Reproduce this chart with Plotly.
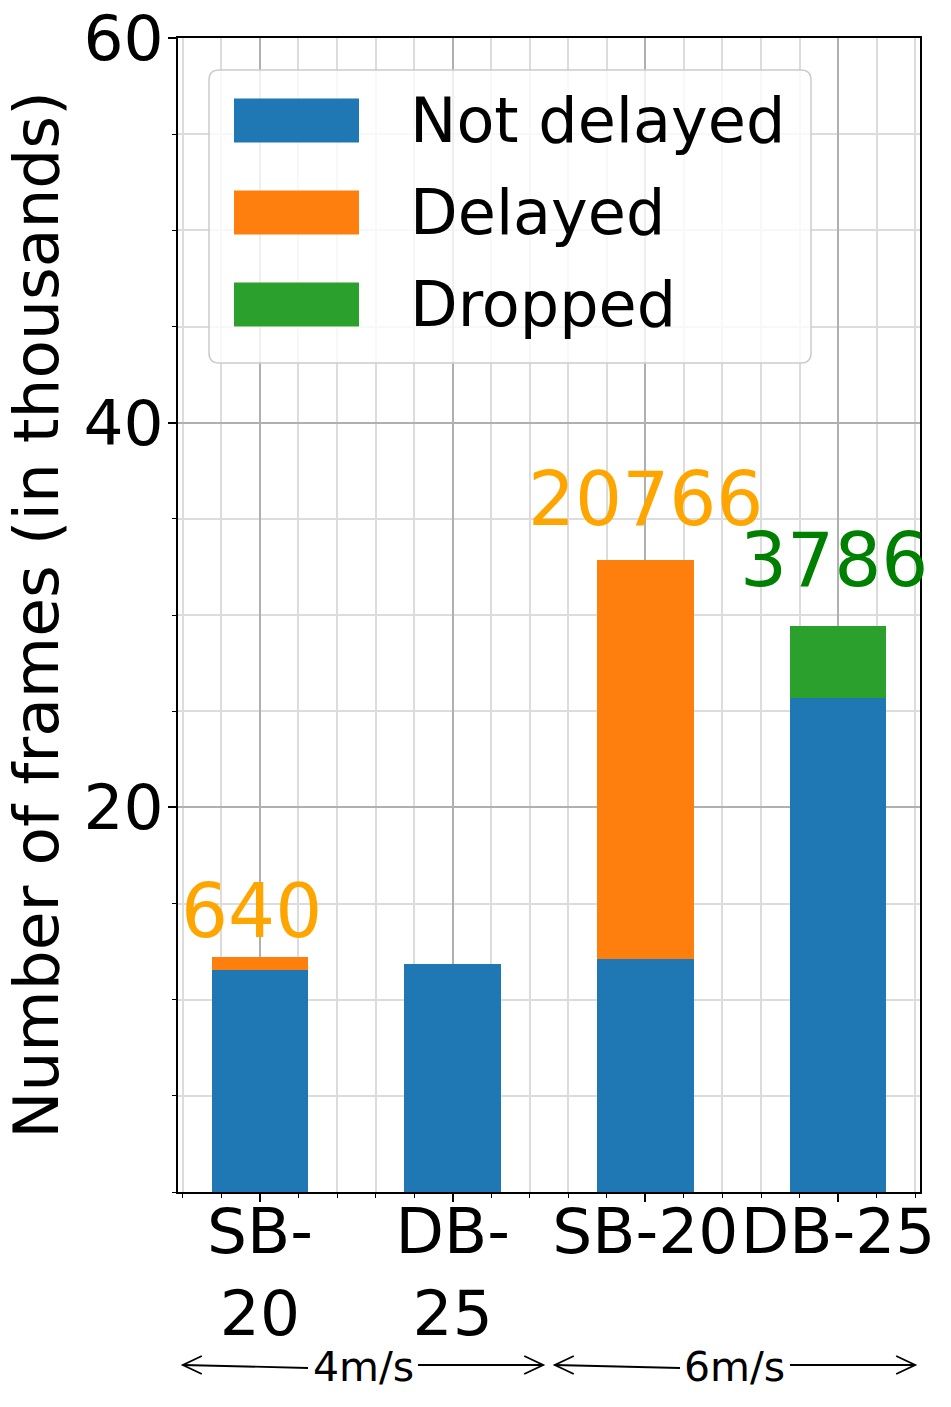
import plotly.graph_objects as go

# ---------------- data ----------------
categories = ["SB-<br>20", "DB-<br>25", "SB-20", "DB-25"]
x_pos = [0, 1, 2, 3]
not_delayed = [11.56, 11.84, 12.10, 25.66]   # thousands of frames
delayed = [0.640, 0.0, 20.766, 0.0]
dropped = [0.0, 0.0, 0.0, 3.786]
series_names = ["Not delayed", "Delayed", "Dropped"]
series_colors = ["#1f77b4", "#ff7f0e", "#2ca02c"]
label_text = ["640", "", "20766", "3786"]
label_colors = ["#FFA500", "#FFA500", "#FFA500", "#008000"]
speed_labels = ["4m/s", "6m/s"]
speed_spans = [(-0.40, 1.47), (1.53, 3.40)]
y_tickvals = [20, 40, 60]

# ---------------- style ----------------
FONT = "DejaVu Sans"
W, H = 951, 1407
ML, MR, MT, MB = 178, 31, 38, 215
PW, PH = W - ML - MR, H - MT - MB
XR = [-0.425, 3.425]
label_yshift = [46, 0, 61, 66]
label_xshift = [-8, 0, 0, -4]

fig = go.Figure()
for name, vals, col in zip(series_names, [not_delayed, delayed, dropped], series_colors):
    fig.add_trace(go.Bar(x=x_pos, y=vals, name=name, width=0.5,
                         marker=dict(color=col, line=dict(width=0)),
                         showlegend=False))

# value labels above bars
totals = [a + b + c for a, b, c in zip(not_delayed, delayed, dropped)]
for i, t in enumerate(label_text):
    if not t:
        continue
    fig.add_annotation(x=x_pos[i], y=totals[i], text=t, showarrow=False,
                       xref="x", yref="y", yanchor="middle", xanchor="center",
                       yshift=label_yshift[i], xshift=label_xshift[i],
                       font=dict(family=FONT, size=74, color=label_colors[i]))

# helpers px -> paper
def px_x(px):
    return (px - ML) / PW
def px_y(py):
    return (H - MB - py) / PH
def data_x_per_px():
    return (XR[1] - XR[0]) / PW

shapes = []
# custom legend box (matplotlib style)
bx0, bx1, by0, by1 = px_x(209), px_x(811), px_y(363), px_y(70)
rx, ry = 10 / PW, 10 / PH
path = (f"M {bx0+rx},{by1} L {bx1-rx},{by1} Q {bx1},{by1} {bx1},{by1-ry} "
        f"L {bx1},{by0+ry} Q {bx1},{by0} {bx1-rx},{by0} L {bx0+rx},{by0} "
        f"Q {bx0},{by0} {bx0},{by0+ry} L {bx0},{by1-ry} Q {bx0},{by1} {bx0+rx},{by1} Z")
shapes.append(dict(type="path", path=path, xref="paper", yref="paper",
                   fillcolor="rgba(255,255,255,0.8)", line=dict(color="#cccccc", width=1.5),
                   layer="above"))
row0, row_step, patch_h = 120.5, 92, 44
for i, (name, col) in enumerate(zip(series_names, series_colors)):
    cy = row0 + row_step * i
    shapes.append(dict(type="rect", xref="paper", yref="paper",
                       x0=px_x(234), x1=px_x(359), y0=px_y(cy + patch_h / 2), y1=px_y(cy - patch_h / 2),
                       fillcolor=col, line=dict(width=0), layer="above"))
    fig.add_annotation(x=px_x(408), y=px_y(cy), xref="paper", yref="paper", text=name,
                       showarrow=False, xanchor="left", yanchor="middle",
                       font=dict(family=FONT, size=62, color="black"))

# speed arrows under the axis
arrow_y = px_y(1365)
text_y = px_y(1367)
dxh = 19 * data_x_per_px()
dyh = 9 / PH
half_text = 55 * data_x_per_px()
for lab, (xa, xb) in zip(speed_labels, speed_spans):
    xc = (xa + xb) / 2
    fig.add_annotation(x=xc, y=text_y, xref="x", yref="paper", text=lab, showarrow=False,
                       xanchor="center", yanchor="middle",
                       font=dict(family=FONT, size=41, color="black"))
    line = dict(color="black", width=1.8)
    shapes.append(dict(type="line", xref="x", yref="paper", x0=xa, x1=xc - half_text,
                       y0=arrow_y, y1=px_y(1368), line=line))
    shapes.append(dict(type="line", xref="x", yref="paper", x0=xc + half_text, x1=xb,
                       y0=arrow_y, y1=arrow_y, line=line))
    shapes.append(dict(type="path", xref="x", yref="paper",
                       path=f"M {xa+dxh},{arrow_y+dyh} L {xa},{arrow_y} L {xa+dxh},{arrow_y-dyh}",
                       line=line))
    shapes.append(dict(type="path", xref="x", yref="paper",
                       path=f"M {xb-dxh},{arrow_y+dyh} L {xb},{arrow_y} L {xb-dxh},{arrow_y-dyh}",
                       line=line))

fig.update_layout(
    width=W, height=H, barmode="stack",
    margin=dict(l=ML, r=MR, t=MT, b=MB, autoexpand=False),
    plot_bgcolor="white", paper_bgcolor="white",
    font=dict(family=FONT, size=63, color="black"),
    shapes=shapes,
    xaxis=dict(range=XR, tickmode="array", tickvals=x_pos, ticktext=categories,
               ticks="outside", ticklen=8, tickwidth=1.5, tickcolor="black",
               ticklabelstandoff=-24,
               showline=True, linecolor="black", linewidth=1.5, mirror=True,
               showgrid=True, gridcolor="#b0b0b0", gridwidth=1.5, zeroline=False,
               tickfont=dict(family=FONT, size=63, color="black"),
               minor=dict(tickmode="linear", tick0=0, dtick=0.2, ticks="outside", ticklen=4,
                          tickwidth=1.2, tickcolor="black", showgrid=True,
                          gridcolor="#dcdcdc", gridwidth=1.5),
               automargin=False),
    yaxis=dict(range=[0, 60], tickmode="array", tickvals=y_tickvals,
               ticks="outside", ticklen=8, tickwidth=1.5, tickcolor="black",
               ticklabelstandoff=-8,
               showline=True, linecolor="black", linewidth=1.5, mirror=True,
               showgrid=True, gridcolor="#b0b0b0", gridwidth=1.5, zeroline=False,
               tickfont=dict(family=FONT, size=63, color="black"),
               minor=dict(tickmode="linear", tick0=0, dtick=5, ticks="outside", ticklen=4,
                          tickwidth=1.2, tickcolor="black", showgrid=True,
                          gridcolor="#dcdcdc", gridwidth=1.5),
               title=dict(text="Number of frames (in thousands)", standoff=10,
                          font=dict(family=FONT, size=63, color="black")),
               automargin=False),
)

fig.write_html("out.html")
